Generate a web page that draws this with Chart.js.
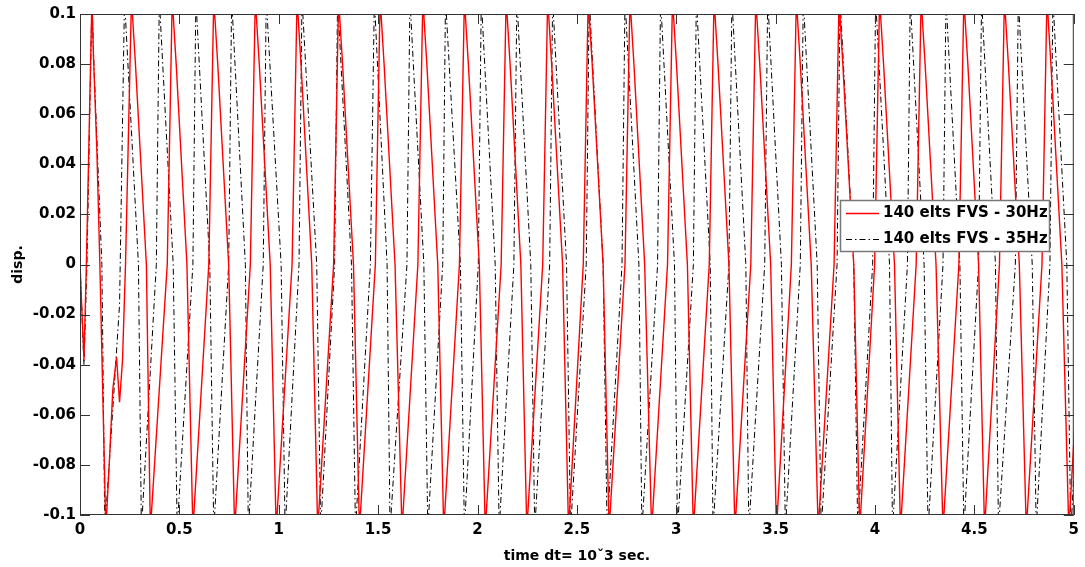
<!DOCTYPE html>
<html>
<head>
<meta charset="utf-8">
<script src="https://cdn.jsdelivr.net/npm/chart.js@4.4.0/dist/chart.umd.min.js"></script>
<style>
  html, body { margin: 0; padding: 0; background: #fff; }
  #wrap { width: 1085px; height: 567px; }
</style>
</head>
<body>
<div id="wrap"><canvas id="dispChart"></canvas></div>
<script>
    // --- DATA ---

        const seriesNames = ['140 elts FVS - 30Hz', '140 elts FVS - 35Hz'];
        const xTicks = [0, 0.5, 1, 1.5, 2, 2.5, 3, 3.5, 4, 4.5, 5];
        const yTicks = [-0.1, -0.08, -0.06, -0.04, -0.02, 0, 0.02, 0.04, 0.06, 0.08, 0.1];

        // 30Hz run (red, solid) - time
        const red30T = [
            0, 0.020, 0.032, 0.060, 0.067, 0.085, 0.100, 0.130, 0.150, 0.165, 0.184, 0.199, 0.214, 0.229, 0.259, 0.279, 0.334, 0.354,
            0.439, 0.464, 0.484, 0.538, 0.568,
            0.648, 0.673, 0.693, 0.748, 0.778,
            0.857, 0.882, 0.902, 0.957, 0.987,
            1.067, 1.092, 1.112, 1.166, 1.196,
            1.276, 1.301, 1.321, 1.376, 1.406,
            1.486, 1.510, 1.530, 1.585, 1.620,
            1.700, 1.725, 1.745, 1.800, 1.830,
            1.909, 1.934, 1.954, 2.009, 2.039,
            2.119, 2.144, 2.164, 2.218, 2.248,
            2.328, 2.353, 2.373, 2.428, 2.458,
            2.532, 2.557, 2.577, 2.632, 2.662,
            2.742, 2.767, 2.787, 2.841, 2.876,
            2.956, 2.981, 3.001, 3.056, 3.086,
            3.166, 3.190, 3.210, 3.265, 3.295,
            3.375, 3.400, 3.420, 3.475, 3.504,
            3.579, 3.604, 3.624, 3.679, 3.714,
            3.794, 3.819, 3.838, 3.893, 3.923,
            3.998, 4.023, 4.043, 4.098, 4.128,
            4.207, 4.232, 4.252, 4.307, 4.342,
            4.422, 4.447, 4.467, 4.521, 4.551,
            4.626, 4.651, 4.671, 4.726, 4.761,
            4.840, 4.865, 4.885, 4.940, 4.975,
            5.050, 5.075
        ];
        // 30Hz run - displacement (goes past the +-0.1 axis limits, clipped)
        const red30V = [
            0, -0.038, 0, 0.106, 0.085, 0.045, 0, -0.106, -0.075, -0.05, -0.037, -0.055, -0.038, 0, 0.106, 0.08, 0, -0.106,
            0, 0.106, 0.08, 0, -0.106,
            0, 0.106, 0.08, 0, -0.106,
            0, 0.106, 0.08, 0, -0.106,
            0, 0.106, 0.08, 0, -0.106,
            0, 0.106, 0.08, 0, -0.106,
            0, 0.106, 0.08, 0, -0.106,
            0, 0.106, 0.08, 0, -0.106,
            0, 0.106, 0.08, 0, -0.106,
            0, 0.106, 0.08, 0, -0.106,
            0, 0.106, 0.08, 0, -0.106,
            0, 0.106, 0.08, 0, -0.106,
            0, 0.106, 0.08, 0, -0.106,
            0, 0.106, 0.08, 0, -0.106,
            0, 0.106, 0.08, 0, -0.106,
            0, 0.106, 0.08, 0, -0.106,
            0, 0.106, 0.08, 0, -0.106,
            0, 0.106, 0.08, 0, -0.106,
            0, 0.106, 0.08, 0, -0.106,
            0, 0.106, 0.08, 0, -0.106,
            0, 0.106, 0.08, 0, -0.106,
            0, 0.106, 0.08, 0, -0.106,
            0, 0.106, 0.08, 0, -0.106,
            0, 0.106
        ];

        // 35Hz run (black, dash-dot) - time
        const black35T = [
            0, 0.020, 0.035, 0.060, 0.070, 0.110, 0.125, 0.155, 0.199, 0.224, 0.294, 0.309,
            0.384, 0.399, 0.469, 0.489,
            0.568, 0.583, 0.653, 0.673,
            0.748, 0.763, 0.832, 0.847,
            0.922, 0.937, 1.012, 1.032,
            1.102, 1.117, 1.191, 1.211,
            1.281, 1.296, 1.366, 1.386,
            1.461, 1.481, 1.545, 1.560,
            1.645, 1.660, 1.730, 1.750,
            1.825, 1.839, 1.914, 1.934,
            2.004, 2.019, 2.089, 2.109,
            2.183, 2.198, 2.268, 2.288,
            2.363, 2.378, 2.448, 2.468,
            2.547, 2.562, 2.632, 2.652,
            2.727, 2.742, 2.812, 2.827,
            2.906, 2.921, 2.991, 3.006,
            3.086, 3.101, 3.171, 3.185,
            3.265, 3.280, 3.350, 3.365,
            3.445, 3.460, 3.529, 3.549,
            3.624, 3.639, 3.709, 3.729,
            3.809, 3.824, 3.893, 3.913,
            3.988, 4.003, 4.073, 4.088,
            4.163, 4.177, 4.247, 4.267,
            4.342, 4.357, 4.427, 4.447,
            4.521, 4.536, 4.606, 4.621,
            4.706, 4.721, 4.791, 4.811,
            4.880, 4.895, 4.965, 4.985,
            5.060, 5.075
        ];
        // 35Hz run - displacement
        const black35V = [
            0, -0.04, 0, 0.106, 0.08, 0, -0.106, -0.07, -0.016, 0.106, 0, -0.106,
            0, 0.106, 0, -0.106,
            0, 0.106, 0, -0.106,
            0, 0.106, 0, -0.106,
            0, 0.106, 0, -0.106,
            0, 0.106, 0, -0.106,
            0, 0.106, 0, -0.106,
            0, 0.106, 0, -0.106,
            0, 0.106, 0, -0.106,
            0, 0.106, 0, -0.106,
            0, 0.106, 0, -0.106,
            0, 0.106, 0, -0.106,
            0, 0.106, 0, -0.106,
            0, 0.106, 0, -0.106,
            0, 0.106, 0, -0.106,
            0, 0.106, 0, -0.106,
            0, 0.106, 0, -0.106,
            0, 0.106, 0, -0.106,
            0, 0.106, 0, -0.106,
            0, 0.106, 0, -0.106,
            0, 0.106, 0, -0.106,
            0, 0.106, 0, -0.106,
            0, 0.106, 0, -0.106,
            0, 0.106, 0, -0.106,
            0, 0.106, 0, -0.106,
            0, 0.106, 0, -0.106,
            0, 0.106, 0, -0.106,
            0, 0.106
        ];

        const toPoints = (t, v) => t.map((x, i) => ({ x: x, y: v[i] }));

        // --- STYLE ---
        const FONT = "'DejaVu Sans', 'Liberation Sans', sans-serif";
        Chart.defaults.font.family = FONT;
        Chart.defaults.font.weight = 'bold';
        Chart.defaults.font.size = 15;
        Chart.defaults.color = '#000';

        // MATLAB-like box, inward ticks and legend box
        const matlabFrame = {
            id: 'matlabFrame',
            afterDatasetsDraw(chart) {
                const { ctx, chartArea: a, scales: { x, y } } = chart;
                ctx.save();
                ctx.strokeStyle = '#333';
                ctx.lineWidth = 1;
                ctx.setLineDash([]);
                ctx.beginPath();
                xTicks.forEach(v => {
                    const px = Math.round(x.getPixelForValue(v)) + 0.5;
                    ctx.moveTo(px, a.bottom); ctx.lineTo(px, a.bottom - 10);
                    ctx.moveTo(px, a.top); ctx.lineTo(px, a.top + 10);
                });
                yTicks.forEach(v => {
                    const py = Math.round(y.getPixelForValue(v)) + 0.5;
                    ctx.moveTo(a.left, py); ctx.lineTo(a.left + 10, py);
                    ctx.moveTo(a.right, py); ctx.lineTo(a.right - 10, py);
                });
                ctx.stroke();
                ctx.strokeRect(a.left + 0.5, a.top + 0.5, a.right - a.left - 1, a.bottom - a.top - 1);

                // legend
                const lx = 840, ly = 200, lw = 209, lh = 51;
                ctx.fillStyle = '#fff';
                ctx.fillRect(lx, ly, lw, lh);
                ctx.strokeStyle = '#777';
                ctx.lineWidth = 1.5;
                ctx.strokeRect(lx + 0.5, ly + 0.5, lw, lh);
                ctx.font = 'bold 15px ' + FONT;
                ctx.textBaseline = 'middle';
                ctx.textAlign = 'left';
                chart.data.datasets.forEach((ds, i) => {
                    const rowY = ly + 13.5 + i * 26;
                    ctx.strokeStyle = ds.borderColor;
                    ctx.lineWidth = ds.borderWidth;
                    ctx.setLineDash(ds.borderDash || []);
                    ctx.beginPath();
                    ctx.moveTo(lx + 6, rowY); ctx.lineTo(lx + 39, rowY);
                    ctx.stroke();
                    ctx.setLineDash([]);
                    ctx.fillStyle = '#000';
                    ctx.fillText(ds.label, lx + 43, rowY);
                });
                ctx.restore();
            }
        };

        // --- CHART ---
        const ctxDisp = document.getElementById('dispChart').getContext('2d');
        new Chart(ctxDisp, {
            type: 'line',
            data: {
                datasets: [
                    {
                        label: seriesNames[0],
                        data: toPoints(red30T, red30V),
                        borderColor: '#ff0000',
                        borderWidth: 1.4,
                        pointRadius: 0,
                        tension: 0,
                        clip: 0
                    },
                    {
                        label: seriesNames[1],
                        data: toPoints(black35T, black35V),
                        borderColor: '#000000',
                        borderWidth: 1,
                        borderDash: [6, 3, 1.5, 3],
                        pointRadius: 0,
                        tension: 0,
                        clip: 0
                    }
                ]
            },
            options: {
                responsive: true,
                maintainAspectRatio: false,
                animation: false,
                events: [],
                layout: { padding: { top: 14, right: 2, left: 0, bottom: 0 } },
                scales: {
                    x: {
                        type: 'linear',
                        min: 0,
                        max: 5,
                        afterFit: s => { s.height = 52; },
                        afterBuildTicks: s => { s.ticks = xTicks.map(v => ({ value: v })); },
                        grid: { display: false, drawTicks: false },
                        border: { display: false },
                        ticks: {
                            padding: 6,
                            maxRotation: 0,
                            callback: v => String(v)
                        },
                        title: {
                            display: true,
                            text: 'time dt= 10ˇ3 sec.',
                            font: { size: 14, weight: 'bold' },
                            padding: { top: 0, bottom: 2 }
                        }
                    },
                    y: {
                        min: -0.1,
                        max: 0.1,
                        afterFit: s => { s.width = 80; },
                        afterBuildTicks: s => { s.ticks = yTicks.map(v => ({ value: v })); },
                        grid: { display: false, drawTicks: false },
                        border: { display: false },
                        ticks: {
                            padding: 4,
                            callback: v => String(Number(v.toFixed(2)))
                        },
                        title: {
                            display: true,
                            text: 'disp.',
                            font: { size: 14, weight: 'bold' },
                            padding: { top: 10, bottom: 0 }
                        }
                    }
                },
                plugins: {
                    legend: { display: false },
                    tooltip: { enabled: false }
                }
            },
            plugins: [matlabFrame]
        });
</script>
</body>
</html>
